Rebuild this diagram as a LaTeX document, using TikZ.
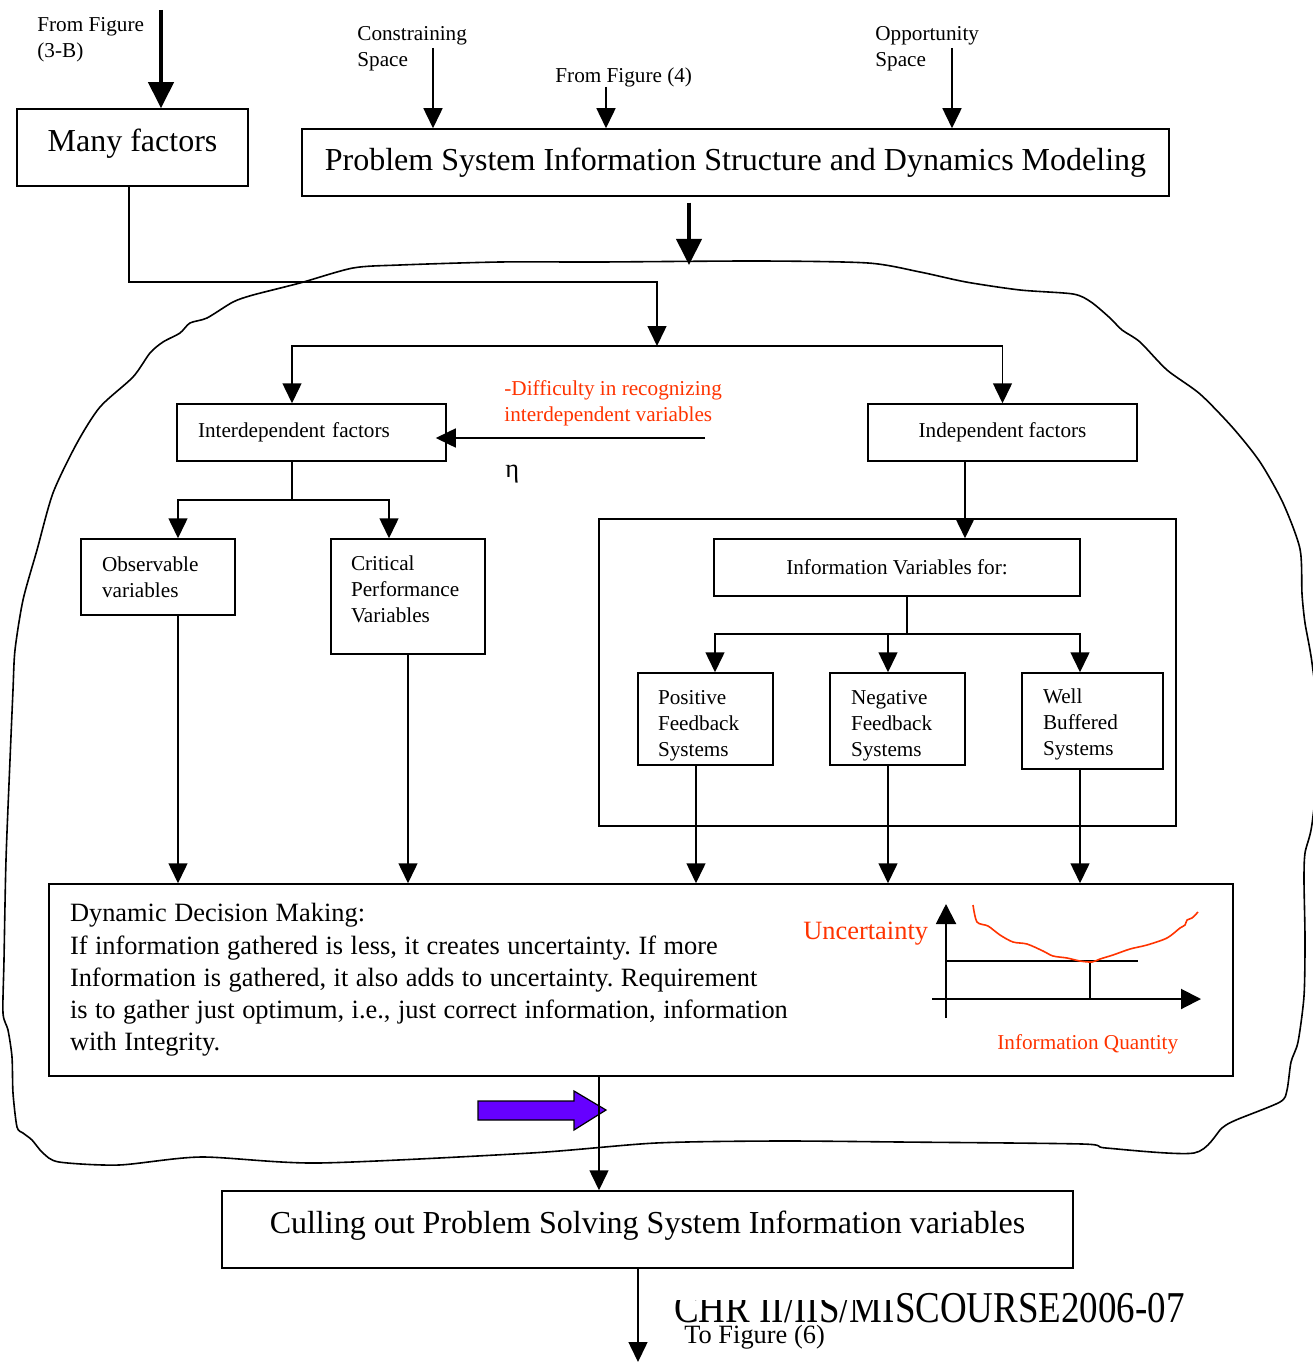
\documentclass[tikz,border=0pt]{standalone}
\usepackage{fontspec}
\setmainfont{Liberation Serif}
\usetikzlibrary{arrows.meta}
\definecolor{redtxt}{RGB}{255,51,0}
\definecolor{purp}{RGB}{102,0,255}
\begin{document}
\frenchspacing
\begin{tikzpicture}[x=0.5pt,y=-0.5pt,
  bx/.style={draw, line width=0.75pt, inner sep=0pt},
  sm/.style={font=\fontsize{10.6}{13}\selectfont},
  md/.style={font=\fontsize{13.2}{16.1}\selectfont},
  lg/.style={font=\fontsize{16}{19}\selectfont},
  lbl/.style={anchor=base west, inner sep=0pt, align=left},
  arr/.style={line width=0.75pt, -{Triangle[width=9.5pt,length=10pt]}},
  thickarr/.style={line width=2pt, -{Triangle[width=12.5pt,length=13pt]}},
  axarr/.style={line width=1pt, -{Triangle[width=10pt,length=10pt]}}]
\useasboundingbox (0,0) rectangle (1312,1364);

% outline of the system
\draw[line width=0.8pt] plot[smooth cycle, tension=0.45] coordinates {
(300,283) (353,268) (400,265) (500,262) (600,262) (760,261) (868,263) (920,272) (966,282) (1020,290) (1073,294) (1091,302) (1110,318) (1122,330) (1140,342) (1167,370) (1200,394) (1233,428) (1260,462) (1283,503) (1300,549) (1302,594) (1305,623) (1312,663) (1320,740) (1312,824) (1305,853) (1304,881) (1305,939) (1304,996) (1298,1042) (1291,1062) (1287,1090) (1280,1102) (1236,1120) (1222,1128) (1194,1153) (1106,1148) (1082,1144) (900,1142) (777,1141) (656,1143) (531,1153) (318,1163) (201,1157) (119,1165) (59,1162) (43,1153) (32,1140) (23,1133) (17,1127) (13,1093) (12,1057) (8,1030) (3,1013) (4,960) (6,860) (10,760) (13,690) (15,650) (23,600) (37,550) (53,493) (77,443) (100,407) (133,377) (150,353) (163,342) (180,333) (190,323) (207,318) (233,302) (253,295)};

% boxes
\node[bx, lg, minimum width=115.5pt, minimum height=38.5pt, text depth=7.4pt] (many) at (132.5,147.5) {Many factors};
\node[bx, lg, minimum width=433.5pt, minimum height=33.5pt] (title) at (735.5,162.5) {Problem System Information Structure and Dynamics Modeling};
\node[bx, sm, minimum height=28.5pt, text width=113.5pt, inner xsep=10.5pt, align=left] (interdep) at (311.5,432.5) {Interdependent factors};
\node[bx, sm, minimum width=134.5pt, minimum height=28.5pt] (indep) at (1002.5,432.5) {Independent factors};
\node[bx, sm, minimum height=38pt, text width=56pt, inner xsep=10.5pt, align=left] (obs) at (158,577) {Observable\\variables};
\node[bx, sm, minimum height=57.5pt, text width=57pt, inner xsep=10pt, align=left, text height=7.24pt, text depth=33pt] (crit) at (408,596.5) {Critical\\Performance\\Variables};
\node[bx, minimum width=288.5pt, minimum height=153.5pt] (outer) at (887.5,672.5) {};
\node[bx, sm, minimum width=183pt, minimum height=28.5pt] (infovar) at (897,567.5) {Information Variables for:};
\node[bx, sm, minimum height=46pt, text width=47.5pt, inner xsep=10pt, align=left, text height=14.2pt, text depth=28.3pt] (pos) at (705.5,719) {Positive\\Feedback\\Systems};
\node[bx, sm, minimum height=46pt, text width=46.5pt, inner xsep=10.5pt, align=left, text height=14.2pt, text depth=28.3pt] (neg) at (897.5,719) {Negative\\Feedback\\Systems};
\node[bx, sm, minimum height=48pt, text width=49.5pt, inner xsep=10.5pt, align=left, text height=11.2pt, text depth=28.3pt] (well) at (1092.5,721) {Well\\Buffered\\Systems};
\node[bx, md, minimum height=96pt, text width=571pt, inner xsep=10.5pt, align=left] (ddm) at (641,980) {\spaceskip=3.75pt\relax Dynamic Decision Making:\\If information gathered is less, it creates uncertainty. If more\\Information is gathered, it also adds to uncertainty. Requirement\\is to gather just optimum, i.e., just correct information, information\\with Integrity.};
\node[bx, lg, minimum width=425.5pt, minimum height=38.5pt, text depth=7pt] (culling) at (647.5,1229.5) {Culling out Problem Solving System Information variables};

% free labels (base = baseline of the last line)
\node[sm, lbl] (t3b) at (37,58) {From Figure\\(3-B)};
\node[sm, lbl] (tcs) at (357,67) {Constraining\\Space};
\node[sm, lbl] (tf4) at (555,83) {From Figure (4)};
\node[sm, lbl] (tos) at (875,67) {Opportunity\\Space};
\node[sm, lbl, text=redtxt] (tdiff) at (504,421) {-Difficulty in recognizing\\interdependent variables};
\node[md, lbl] (eta) at (505,477) {η};
\node[md, lbl, text=redtxt] (tunc) at (803,939) {Uncertainty};
\node[sm, lbl, text=redtxt] (tiq) at (997,1049) {Information Quantity};
\node[md, lbl] (t6) at (684,1343) {To Figure (6)};
\begin{scope}
\clip (660,1300) rectangle (896,1350) (896,1270) rectangle (1220,1350);
\node[font=\fontsize{22}{26}\selectfont, xscale=0.84, anchor=base west, inner sep=0pt] (chr) at (674,1322) {CHR II/IIS/MISCOURSE2006-07};
\end{scope}

% helper coordinates
\coordinate (f3b) at (161,10);
\coordinate (csp) at (433,48);
\coordinate (f4) at (606,87);
\coordinate (osp) at (952,48);
\coordinate (blobtop) at (689,265);
\coordinate (xm) at (129,282);
\coordinate (split) at (657,346);
\coordinate (xi) at (292,0);
\coordinate (dstart) at (705,438);
\coordinate (s2) at (292,500);
\coordinate (xo) at (178,0);
\coordinate (xc) at (389,0);
\coordinate (xv) at (965,0);
\coordinate (s3) at (907,634);
\coordinate (xp) at (715,0);
\coordinate (xn) at (888,0);
\coordinate (xw) at (1080,0);
\coordinate (xp2) at (696,0);
\coordinate (xdd) at (599,0);
\coordinate (tofig) at (638,1362);

% purple block arrow
\filldraw[fill=purp, draw=black, line width=0.6pt] (478,1101) -- (574,1101) -- (574,1091) -- (606,1110) -- (574,1130) -- (574,1120) -- (478,1120) -- cycle;

% connectors
\draw[thickarr] (f3b) -- (f3b |- many.north);
\draw[arr] (csp) -- (csp |- title.north);
\draw[arr] (f4) -- (f4 |- title.north);
\draw[arr] (osp) -- (osp |- title.north);
\draw[thickarr, shorten <=3pt] (blobtop |- title.south) -- (blobtop);
\draw[arr] (xm |- many.south) -- (xm) -| (split);
\draw[arr] (split) -| (xi |- interdep.north);
\draw[arr] (split) -| (indep.north);
\draw[arr, shorten >=-5.5pt] (dstart) -- (dstart -| interdep.east);
\draw[line width=0.75pt] (xi |- interdep.south) -- (s2);
\draw[arr] (s2) -| (xo |- obs.north);
\draw[arr] (s2) -| (xc |- crit.north);
\draw[arr] (xo |- obs.south) -- (xo |- ddm.north);
\draw[arr] (crit.south) -- (crit.south |- ddm.north);
\draw[arr] (xv |- indep.south) -- (xv |- infovar.north);
\draw[line width=0.75pt] (s3 |- infovar.south) -- (s3);
\draw[arr] (s3) -| (xp |- pos.north);
\draw[arr] (s3) -| (xn |- neg.north);
\draw[arr] (s3) -| (xw |- well.north);
\draw[arr] (xp2 |- pos.south) -- (xp2 |- ddm.north);
\draw[arr] (xn |- neg.south) -- (xn |- ddm.north);
\draw[arr] (xw |- well.south) -- (xw |- ddm.north);
\draw[arr] (xdd |- ddm.south) -- (xdd |- culling.north);
\draw[arr] (tofig |- culling.south) -- (tofig);

% graph
\coordinate (yax0) at (946,1018);
\coordinate (yax1) at (946,904);
\coordinate (xax0) at (932,999);
\coordinate (xax1) at (1201,999);
\coordinate (h0) at (946,961);
\coordinate (h1) at (1138,961);
\coordinate (v0) at (1090,961);
\coordinate (v1) at (1090,999);
\draw[axarr] (yax0) -- (yax1);
\draw[axarr] (xax0) -- (xax1);
\draw[line width=1pt] (h0) -- (h1);
\draw[line width=1pt] (v0) -- (v1);
\draw[redtxt, line width=0.8pt] plot[smooth, tension=0.5] coordinates {(973,905) (977,922) (988,926) (1000,935) (1013,942) (1027,944) (1043,951) (1053,956) (1067,958) (1080,961) (1092,962) (1100,959) (1113,955) (1130,949) (1147,945) (1167,938) (1180,928) (1185,925) (1187,920) (1192,918) (1198,912)};
\end{tikzpicture}
\end{document}
